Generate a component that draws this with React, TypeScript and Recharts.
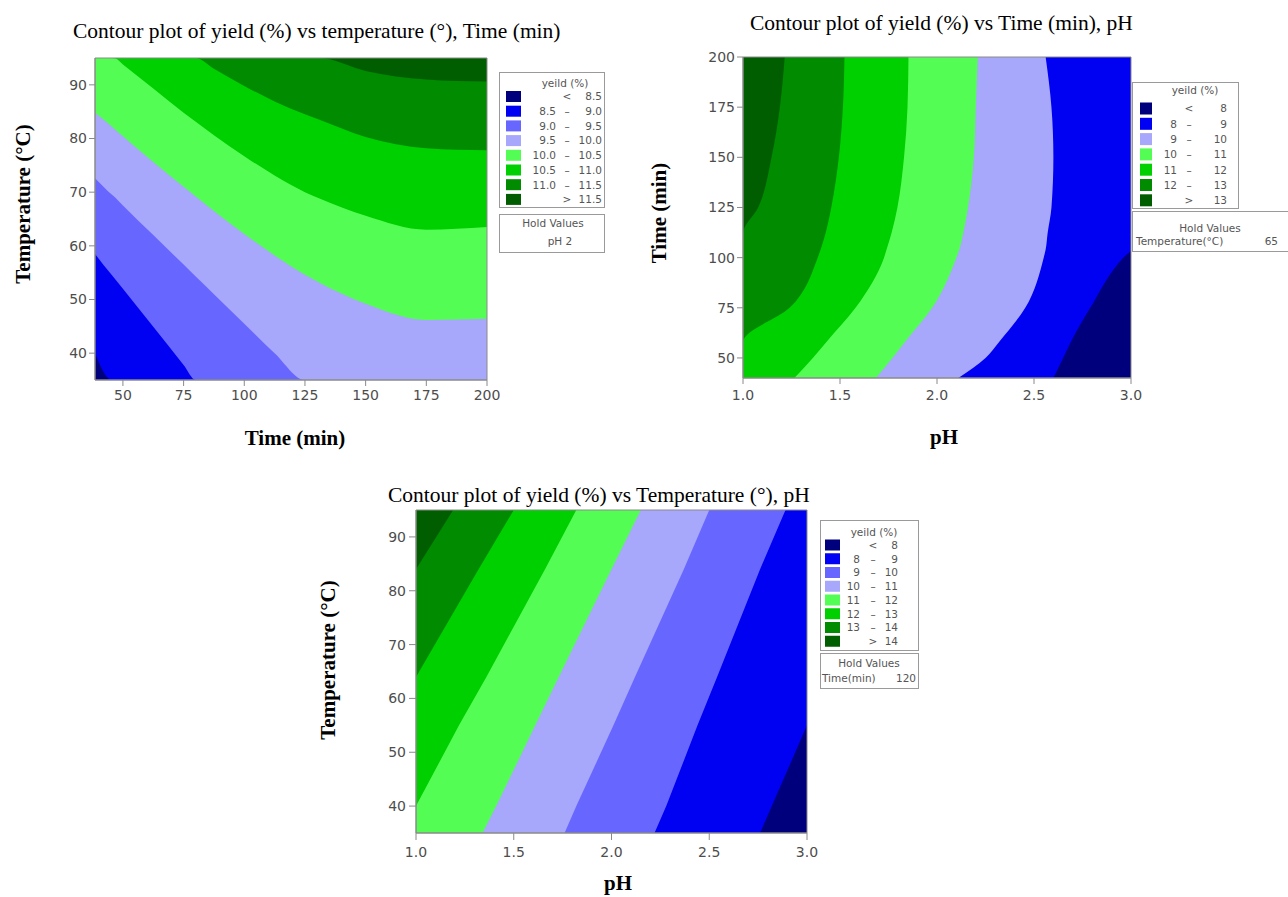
import { AreaChart, Area, XAxis, YAxis, CartesianGrid, ReferenceArea } from 'recharts'

// yield band colours, lowest band first
const navy = '#00007d'
const blue = '#0000f2'
const midBlue = '#6767ff'
const lavender = '#a7a7fb'
const lightGreen = '#54fd54'
const green = '#00cf00'
const darkGreen = '#008b00'
const deepGreen = '#005e00'

// plot 1: temperature (y) against time (x), pH held at 2
// each edge is the temperature of one contour line at the given time
const timeSteps = [38.5, 45.5, 47, 50, 62.5, 75, 80, 87.5, 100, 112.5, 125, 131, 150, 175, 200]
const edge85 = [40, 35, 35, 35, 35, 35, 35, 35, 35, 35, 35, 35, 35, 35, 35]
const edge90 = [58.5, 54.5, 53.7, 52, 44.9, 37.8, 35, 35, 35, 35, 35, 35, 35, 35, 35]
const edge95 = [72.6, 69.5, 68.9, 67.5, 62, 56.5, 54.3, 51, 45.5, 40, 35, 35, 35, 35, 35]
const edge100 = [84.8, 82.2, 81.6, 80.4, 75.6, 71, 69.2, 66.5, 62.2, 58.2, 54.6, 53.1, 49.2, 46.2, 46.4]
const edge105 = [95, 95, 94.9, 93.8, 89.3, 84.8, 83.1, 80.6, 76.7, 73.1, 70, 68.8, 65.6, 63, 63.5]
const edge110 = [95, 95, 95, 95, 95, 95, 95, 93, 89.8, 86.9, 84.5, 83.5, 80.3, 78.2, 77.8]
const edge115 = [95, 95, 95, 95, 95, 95, 95, 95, 95, 95, 95, 95, 92.6, 91, 90.6]

// plot 2: pH (x) of each contour line at a given time (y), temperature held at 65
const phTimeSteps = [40, 50, 58, 75, 100, 104, 112, 125, 150, 175, 200]
const ph8 = [2.6, 2.65, 2.69, 2.79, 2.96, 3.0, 3.0, 3.0, 3.0, 3.0, 3.0]
const ph9 = [2.11, 2.25, 2.32, 2.455, 2.55, 2.56, 2.57, 2.59, 2.6, 2.59, 2.56]
const ph10 = [1.685, 1.77, 1.835, 1.975, 2.1, 2.115, 2.135, 2.16, 2.19, 2.2, 2.21]
const ph11 = [1.265, 1.36, 1.43, 1.58, 1.727, 1.74, 1.765, 1.796, 1.83, 1.848, 1.853]
const ph12 = [1.0, 1.0, 1.0, 1.24, 1.385, 1.4, 1.425, 1.455, 1.494, 1.515, 1.523]
const ph13 = [1.0, 1.0, 1.0, 1.0, 1.0, 1.0, 1.0, 1.078, 1.147, 1.19, 1.215]

// plot 3: pH (x) of each contour line at a given temperature (y), time held at 120
const tempSteps = [35, 40, 55, 64, 84, 95]
const tp8 = [2.76, 2.82, 3.0, 3.0, 3.0, 3.0]
const tp9 = [2.22, 2.28, 2.44, 2.54, 2.76, 2.89]
const tp10 = [1.76, 1.82, 2.01, 2.12, 2.37, 2.5]
const tp11 = [1.34, 1.41, 1.61, 1.73, 2.0, 2.15]
const tp12 = [1.0, 1.0, 1.22, 1.36, 1.66, 1.82]
const tp13 = [1.0, 1.0, 1.0, 1.0, 1.32, 1.5]
const tp14 = [1.0, 1.0, 1.0, 1.0, 1.0, 1.19]

// tick labels
const timeTicks = [50, 75, 100, 125, 150, 175, 200]
const tempTicks = [40, 50, 60, 70, 80, 90]
const phTicks = [1.0, 1.5, 2.0, 2.5, 3.0]

// legend rows: [low, sign, high]
const legend1Rows = [
  ['', '<', '8.5'], ['8.5', '\u2013', '9.0'], ['9.0', '\u2013', '9.5'], ['9.5', '\u2013', '10.0'],
  ['10.0', '\u2013', '10.5'], ['10.5', '\u2013', '11.0'], ['11.0', '\u2013', '11.5'], ['', '>', '11.5'],
]
const legend1Colors = [navy, blue, midBlue, lavender, lightGreen, green, darkGreen, deepGreen]
const legend2Rows = [
  ['', '<', '8'], ['8', '\u2013', '9'], ['9', '\u2013', '10'], ['10', '\u2013', '11'],
  ['11', '\u2013', '12'], ['12', '\u2013', '13'], ['', '>', '13'],
]
const legend2Colors = [navy, blue, lavender, lightGreen, green, darkGreen, deepGreen]
const legend3Rows = [
  ['', '<', '8'], ['8', '\u2013', '9'], ['9', '\u2013', '10'], ['10', '\u2013', '11'],
  ['11', '\u2013', '12'], ['12', '\u2013', '13'], ['13', '\u2013', '14'], ['', '>', '14'],
]
const legend3Colors = [navy, blue, midBlue, lavender, lightGreen, green, darkGreen, deepGreen]

const serif = '"Liberation Serif", "Times New Roman", serif'
const sans = '"DejaVu Sans", Verdana, sans-serif'
const frame = '#8a8a8a'
const axisTick = { fontSize: 14, fill: '#4d4d4d', fontFamily: sans }
const legendFont = { fontFamily: sans, fontSize: 10.5, fill: '#555' }

function TimeTempPlot() {
  const rows = timeSteps.map((time, i) => ({
    time,
    e85: edge85[i], e90: edge90[i], e95: edge95[i], e100: edge100[i],
    e105: edge105[i], e110: edge110[i], e115: edge115[i],
  }))
  // painted from the highest band down, each filling from the bottom up to its line
  const layers = [
    ['e115', darkGreen], ['e110', green], ['e105', lightGreen], ['e100', lavender],
    ['e95', midBlue], ['e90', blue], ['e85', navy],
  ]
  return (
    <AreaChart width={500} height={420} data={rows} margin={{ top: 58, right: 13, bottom: 10, left: 55 }}>
      <CartesianGrid horizontal={false} vertical={false} fill={deepGreen} stroke="none" />
      <XAxis type="number" dataKey="time" domain={[38.5, 200]} allowDataOverflow ticks={timeTicks}
        height={30} tick={axisTick} tickSize={6} tickMargin={4} stroke={frame} />
      <YAxis type="number" domain={[35, 95]} allowDataOverflow ticks={tempTicks}
        width={40} tick={axisTick} tickSize={6} tickMargin={2} stroke={frame} />
      {layers.map(([key, color]) => (
        <Area key={key} dataKey={key} type="monotone" fill={color} fillOpacity={1} stroke="none"
          isAnimationActive={false} activeDot={false} />
      ))}
      <ReferenceArea x1={38.5} x2={200} y1={35} y2={95} fill="none" stroke={frame} />
    </AreaChart>
  )
}

function PhTimePlot() {
  const rows = phTimeSteps.map((time, i) => ({
    time, p8: ph8[i], p9: ph9[i], p10: ph10[i], p11: ph11[i], p12: ph12[i], p13: ph13[i],
  }))
  const layers = [
    ['p8', blue], ['p9', lavender], ['p10', lightGreen], ['p11', green], ['p12', darkGreen], ['p13', deepGreen],
  ]
  return (
    <AreaChart layout="vertical" width={530} height={420} data={rows}
      margin={{ top: 57, right: 39, bottom: 12, left: 63 }}>
      <CartesianGrid horizontal={false} vertical={false} fill={navy} stroke="none" />
      <XAxis type="number" domain={[1, 3]} allowDataOverflow ticks={phTicks}
        tickFormatter={(v: number) => v.toFixed(1)}
        height={30} tick={axisTick} tickSize={6} tickMargin={6} stroke={frame} />
      <YAxis type="number" dataKey="time" domain={[40, 200]} allowDataOverflow reversed ticks={timeTicks}
        width={40} tick={axisTick} tickSize={6} tickMargin={2} stroke={frame} />
      {layers.map(([key, color]) => (
        <Area key={key} dataKey={key} type="monotone" fill={color} fillOpacity={1} stroke="none"
          isAnimationActive={false} activeDot={false} />
      ))}
      <ReferenceArea x1={1} x2={3} y1={40} y2={200} fill="none" stroke={frame} />
    </AreaChart>
  )
}

function TempPhPlot() {
  const rows = tempSteps.map((temp, i) => ({
    temp, t8: tp8[i], t9: tp9[i], t10: tp10[i], t11: tp11[i], t12: tp12[i], t13: tp13[i], t14: tp14[i],
  }))
  const layers = [
    ['t8', blue], ['t9', midBlue], ['t10', lavender], ['t11', lightGreen],
    ['t12', green], ['t13', darkGreen], ['t14', deepGreen],
  ]
  return (
    <AreaChart layout="vertical" width={500} height={420} data={rows}
      margin={{ top: 50, right: 13, bottom: 17, left: 56 }}>
      <CartesianGrid horizontal={false} vertical={false} fill={navy} stroke="none" />
      <XAxis type="number" domain={[1, 3]} allowDataOverflow ticks={phTicks}
        tickFormatter={(v: number) => v.toFixed(1)}
        height={30} tick={axisTick} tickSize={7} tickMargin={7} stroke={frame} />
      <YAxis type="number" dataKey="temp" domain={[35, 95]} allowDataOverflow reversed ticks={tempTicks}
        width={40} tick={axisTick} tickSize={7} tickMargin={3} stroke={frame} />
      {layers.map(([key, color]) => (
        <Area key={key} dataKey={key} type="linear" fill={color} fillOpacity={1} stroke="none"
          isAnimationActive={false} activeDot={false} />
      ))}
      <ReferenceArea x1={1} x2={3} y1={35} y2={95} fill="none" stroke={frame} />
    </AreaChart>
  )
}

interface LegendProps {
  box: [number, number, number, number]
  headerX: number
  headerY: number
  rows: string[][]
  colors: string[]
  firstRow: number
  step: number
  swatch: [number, number, number]
  cols: [number, number, number]
}

function LegendBox({ box, headerX, headerY, rows, colors, firstRow, step, swatch, cols }: LegendProps) {
  const [x, y, w, h] = box
  return (
    <g>
      <rect x={x + 0.5} y={y + 0.5} width={w} height={h} fill="#fff" stroke="#9a9a9a" />
      <text x={headerX} y={headerY + 3.8} textAnchor="middle" {...legendFont}>yeild (%)</text>
      {rows.map((r, i) => {
        const cy = firstRow + step * i
        return (
          <g key={i}>
            <rect x={swatch[0]} y={cy - swatch[2] / 2} width={swatch[1]} height={swatch[2]} fill={colors[i]} />
            <text x={cols[0]} y={cy + 3.8} textAnchor="end" {...legendFont}>{r[0]}</text>
            <text x={cols[1]} y={cy + 3.8} textAnchor="middle" {...legendFont}>{r[1]}</text>
            <text x={cols[2]} y={cy + 3.8} textAnchor="end" {...legendFont}>{r[2]}</text>
          </g>
        )
      })}
    </g>
  )
}

function Decorations() {
  const title = { fontFamily: serif, fontSize: 21.5, fill: '#000' }
  const label = { fontFamily: serif, fontSize: 21, fontWeight: 700, fill: '#000' }
  return (
    <svg width={1288} height={897} style={{ position: 'absolute', left: 0, top: 0, pointerEvents: 'none' }}>
      <text x={73} y={37.5} {...title}>Contour plot of yield (%) vs temperature (°), Time (min)</text>
      <text x={750} y={29.5} {...title}>Contour plot of yield (%) vs Time (min), pH</text>
      <text x={388} y={501.5} {...title}>Contour plot of yield (%) vs Temperature (°), pH</text>

      <text transform="translate(30,204) rotate(-90)" textAnchor="middle" {...label}>Temperature (°C)</text>
      <text transform="translate(666,213) rotate(-90)" textAnchor="middle" {...label}>Time (min)</text>
      <text transform="translate(335,660) rotate(-90)" textAnchor="middle" {...label}>Temperature (°C)</text>
      <text x={295} y={445} textAnchor="middle" {...label}>Time (min)</text>
      <text x={944} y={444} textAnchor="middle" {...label}>pH</text>
      <text x={618} y={890} textAnchor="middle" {...label}>pH</text>

      <LegendBox box={[499, 72, 105, 135]} headerX={565} headerY={83.5} rows={legend1Rows} colors={legend1Colors}
        firstRow={96.5} step={14.7} swatch={[506, 15, 11]} cols={[556, 567, 602]} />
      <rect x={499.5} y={214.5} width={105} height={38} fill="#fff" stroke="#9a9a9a" />
      <text x={553} y={227} textAnchor="middle" {...legendFont}>Hold Values</text>
      <text x={560} y={245} textAnchor="middle" {...legendFont}>pH  2</text>

      <LegendBox box={[1132, 82, 106, 126]} headerX={1195} headerY={90} rows={legend2Rows} colors={legend2Colors}
        firstRow={108.5} step={15.3} swatch={[1140, 12, 12]} cols={[1177, 1189, 1227]} />
      <rect x={1132.5} y={211.5} width={160} height={40} fill="#fff" stroke="#9a9a9a" />
      <text x={1210} y={232} textAnchor="middle" {...legendFont}>Hold Values</text>
      <text x={1136} y={245} {...legendFont}>Temperature(°C)</text>
      <text x={1278} y={245} textAnchor="end" {...legendFont}>65</text>

      <LegendBox box={[820, 520, 98, 130]} headerX={874} headerY={532} rows={legend3Rows} colors={legend3Colors}
        firstRow={545} step={13.75} swatch={[825, 15, 11]} cols={[860, 873, 898]} />
      <rect x={820.5} y={653.5} width={98} height={35} fill="#fff" stroke="#9a9a9a" />
      <text x={869} y={667} textAnchor="middle" {...legendFont}>Hold Values</text>
      <text x={822} y={682} {...legendFont}>Time(min)</text>
      <text x={916} y={682} textAnchor="end" {...legendFont}>120</text>
    </svg>
  )
}

export default function App() {
  return (
    <div style={{ position: 'absolute', left: 0, top: 0, width: 1288, height: 897, overflow: 'hidden', background: '#fff' }}>
      <div style={{ position: 'absolute', left: 0, top: 0 }}>
        <TimeTempPlot />
      </div>
      <div style={{ position: 'absolute', left: 640, top: 0 }}>
        <PhTimePlot />
      </div>
      <div style={{ position: 'absolute', left: 320, top: 460 }}>
        <TempPhPlot />
      </div>
      <Decorations />
    </div>
  )
}
